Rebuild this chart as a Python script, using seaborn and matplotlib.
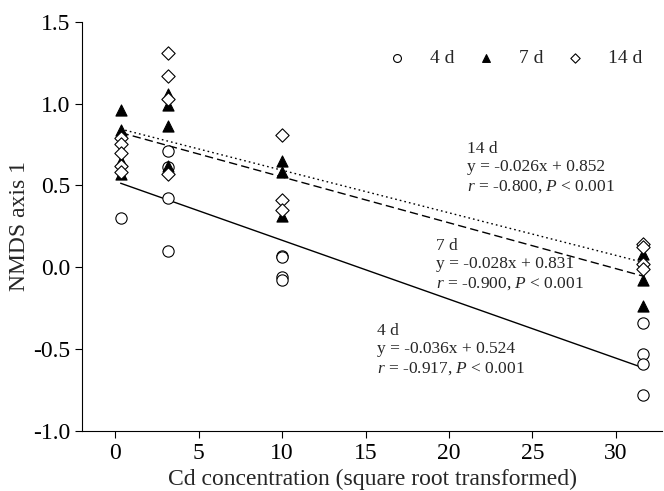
import numpy as np
import pandas as pd
import matplotlib
matplotlib.use("Agg")
import matplotlib.pyplot as plt
import seaborn as sns

sns.set_style("ticks")
plt.rcParams['font.family'] = ['Liberation Serif', 'DejaVu Serif']
plt.rcParams['mathtext.fontset'] = 'custom'
plt.rcParams['mathtext.it'] = 'Liberation Serif:italic'
plt.rcParams['mathtext.rm'] = 'Liberation Serif'

# Cd concentration levels (square-root transformed)
cd_levels = [0.316, 3.162, 10.0, 31.623]

# 4 d (open circles)
x_4d = [0.316, 3.162, 3.162, 3.162, 3.162, 10.0, 10.0, 10.0, 10.0,
        31.623, 31.623, 31.623, 31.623]
y_4d = [0.30, 0.71, 0.61, 0.42, 0.10, 0.07, 0.06, -0.06, -0.08,
        -0.34, -0.53, -0.59, -0.78]

# 7 d (filled triangles)
x_7d = [0.316, 0.316, 0.316, 0.316, 3.162, 3.162, 3.162, 3.162,
        10.0, 10.0, 10.0, 31.623, 31.623, 31.623]
y_7d = [0.96, 0.84, 0.65, 0.57, 1.06, 0.99, 0.86, 0.62,
        0.65, 0.58, 0.31, 0.08, -0.08, -0.235]

# 14 d (open diamonds)
x_14d = [0.316, 0.316, 0.316, 0.316, 0.316, 3.162, 3.162, 3.162, 3.162,
         10.0, 10.0, 10.0, 31.623, 31.623, 31.623, 31.623]
y_14d = [0.79, 0.75, 0.70, 0.62, 0.58, 1.31, 1.17, 1.03, 0.57,
         0.81, 0.41, 0.35, 0.14, 0.12, 0.02, -0.01]

groups = ["4 d", "7 d", "14 d"]
slopes = [-0.036, -0.028, -0.026]
intercepts = [0.524, 0.831, 0.852]
r_values = ["-0.917", "-0.900", "-0.800"]

fig = plt.figure(figsize=(6.64, 4.91), dpi=100)
ax = fig.add_axes([0.1235, 0.1228, 0.874, 0.833])

data_x = [x_4d, x_7d, x_14d]
data_y = [y_4d, y_7d, y_14d]
markers = ["o", "^", "D"]
faces = ["white", "black", "white"]
sizes = [66, 64, 46]
linestyles = ["-", (0, (6, 3)), (0, (1.2, 2.2))]

for i, g in enumerate(groups):
    df = pd.DataFrame({"x": data_x[i], "y": data_y[i]})
    sns.scatterplot(data=df, x="x", y="y", marker=markers[i], s=sizes[i],
                    facecolor=faces[i], edgecolor="black", linewidth=0.8,
                    ax=ax, zorder=3, label=g)

xs = np.array([cd_levels[0], cd_levels[-1]])
for i, g in enumerate(groups):
    ax.plot(xs, slopes[i] * xs + intercepts[i], color="black", lw=1.0,
            linestyle=linestyles[i], zorder=2)

# annotations
ann_pos = [(15.7, -0.39), (19.2, 0.13), (21.1, 0.72)]
fs = 12.5
for i, g in enumerate(groups):
    x0, y0 = ann_pos[i]
    ax.text(x0, y0, g, fontsize=fs, va="center", ha="left")
    ax.text(x0, y0 - 0.11, f"y = {slopes[i]:.3f}x + {intercepts[i]:.3f}",
            fontsize=fs, va="center", ha="left")
    ax.text(x0, y0 - 0.23, f"$r$ = {r_values[i]}, $P$ < 0.001",
            fontsize=fs, va="center", ha="left")

ax.set_xlim(-2, 32.8)
ax.set_ylim(-1.0, 1.5)
ax.set_xticks([0, 5, 10, 15, 20, 25, 30])
ax.set_yticks([-1.0, -0.5, 0.0, 0.5, 1.0, 1.5])
ax.set_yticklabels(["-1.0", "-0.5", "0.0", "0.5", "1.0", "1.5"])
ax.tick_params(axis="both", labelsize=17, direction="out", length=5,
               width=0.8, colors="black")
ax.set_xlabel("Cd concentration (square root transformed)", fontsize=17, labelpad=4)
ax.set_ylabel("NMDS axis 1", fontsize=17, labelpad=2)
for s in ["top", "right"]:
    ax.spines[s].set_visible(False)
for s in ["left", "bottom"]:
    ax.spines[s].set_linewidth(0.8)
    ax.spines[s].set_color("black")

leg = ax.legend(loc="upper right", ncol=3, frameon=False, fontsize=14,
                markerscale=0.7, handlelength=1.0, handletextpad=1.2,
                columnspacing=1.1, bbox_to_anchor=(0.995, 0.975))

fig.savefig("out.png", dpi=100)
